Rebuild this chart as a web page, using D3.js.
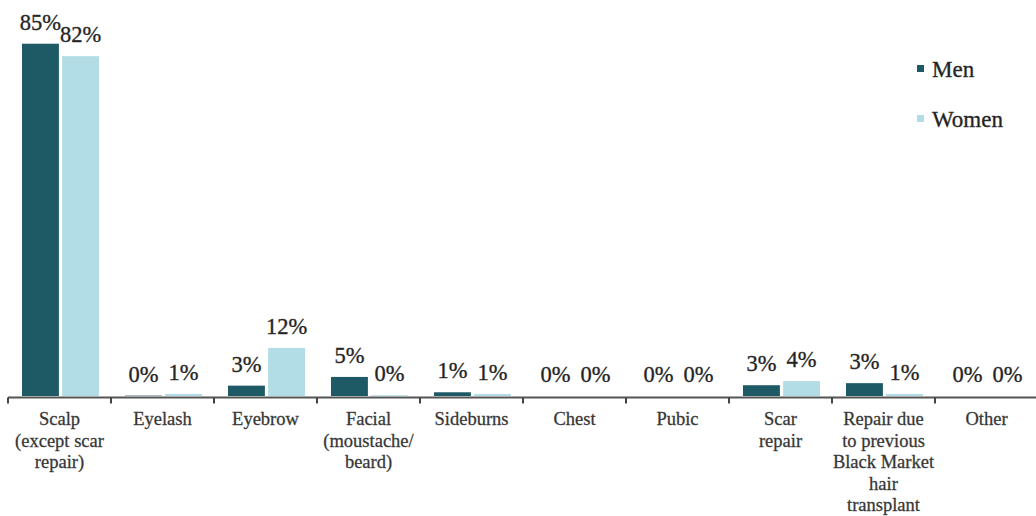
<!DOCTYPE html>
<html>
<head>
<meta charset="utf-8">
<script src="https://cdn.jsdelivr.net/npm/d3@7/dist/d3.min.js"></script>
<style>
  html, body { margin: 0; padding: 0; background: #fff; }
  svg { display: block; }
</style>
</head>
<body>
<svg id="chart" width="1036" height="516"></svg>
<script>
const categories = [
  ["Scalp", "(except scar", "repair)"],
  ["Eyelash"],
  ["Eyebrow"],
  ["Facial", "(moustache/", "beard)"],
  ["Sideburns"],
  ["Chest"],
  ["Pubic"],
  ["Scar", "repair"],
  ["Repair due", "to previous", "Black Market", "hair", "transplant"],
  ["Other"]
];
const seriesNames = ["Men", "Women"];
const menValues   = [85, 0.1, 2.5, 4.6, 0.9, 0, 0, 2.6, 3.1, 0];
const womenValues = [82, 0.5, 11.6, 0.2, 0.5, 0, 0, 3.6, 0.5, 0];
const menLabels   = ["85%", "0%", "3%", "5%", "1%", "0%", "0%", "3%", "3%", "0%"];
const womenLabels = ["82%", "1%", "12%", "0%", "1%", "0%", "0%", "4%", "1%", "0%"];
const colors = ["#1e5a66", "#b3dde6"];

const SERIF = '"Liberation Serif", "Times New Roman", Tinos, serif';
const svg = d3.select("#chart");

const keys = categories.map((c, i) => "c" + i);
const x0 = d3.scaleBand().domain(keys).range([8, 1038]).paddingInner(0.252).paddingOuter(0.126);
const x1 = d3.scaleBand().domain(seriesNames).range([1, x0.bandwidth() + 1]).paddingInner(0.08).paddingOuter(0);
const y = d3.scaleLinear().domain([0, 90]).range([396, 23]);

const data = keys.map((k, i) => ({
  key: k,
  values: [
    { s: "Men", v: menValues[i], label: menLabels[i] },
    { s: "Women", v: womenValues[i], label: womenLabels[i] }
  ]
}));

const groups = svg.append("g").selectAll("g").data(data).join("g")
  .attr("transform", d => `translate(${x0(d.key)},0)`);

groups.selectAll("rect").data(d => d.values).join("rect")
  .attr("x", d => x1(d.s))
  .attr("width", x1.bandwidth())
  .attr("y", d => y(d.v))
  .attr("height", d => y(0) - y(d.v))
  .attr("fill", d => colors[seriesNames.indexOf(d.s)]);

groups.selectAll("text").data(d => d.values).join("text")
  .attr("x", d => x1(d.s) + x1.bandwidth() / 2)
  .attr("y", d => y(d.v) - 14)
  .attr("text-anchor", "middle")
  .style("font-family", SERIF)
  .style("font-size", "22.5px")
  .attr("fill", "#222")
  .attr("stroke", "#333").attr("stroke-width", 0.35)
  .text(d => d.label);

// axis
const step = x0.step();
const axisY = 397.5;
svg.append("line")
  .attr("x1", 8).attr("x2", 1036)
  .attr("y1", axisY).attr("y2", axisY)
  .attr("stroke", "#555").attr("stroke-width", 2);

const tickXs = keys.map(k => x0(k) - x0.paddingInner() * step / 2);
svg.append("g").selectAll("line").data(tickXs).join("line")
  .attr("x1", d => d).attr("x2", d => d)
  .attr("y1", axisY).attr("y2", axisY + 6)
  .attr("stroke", "#444").attr("stroke-width", 2);

// category labels
const catG = svg.append("g").selectAll("text").data(categories).join("text")
  .attr("text-anchor", "middle")
  .style("font-family", SERIF)
  .style("font-size", "18.5px")
  .attr("fill", "#333")
  .attr("stroke", "#444").attr("stroke-width", 0.3);
catG.each(function(lines, i) {
  const cx = x0(keys[i]) + x0.bandwidth() / 2;
  d3.select(this).selectAll("tspan").data(lines).join("tspan")
    .attr("x", cx)
    .attr("y", (d, j) => 425 + j * 21.5)
    .text(d => d);
});

// legend
const legend = svg.append("g");
seriesNames.forEach((s, i) => {
  const ly = 77 + i * 50;
  legend.append("rect")
    .attr("x", 917).attr("y", ly - 12)
    .attr("width", 7).attr("height", 7)
    .attr("fill", colors[i]);
  legend.append("text")
    .attr("x", 932).attr("y", ly)
    .style("font-family", SERIF)
    .style("font-size", "23px")
    .attr("fill", "#222")
    .attr("stroke", "#333").attr("stroke-width", 0.35)
    .text(s);
});
</script>
</body>
</html>
